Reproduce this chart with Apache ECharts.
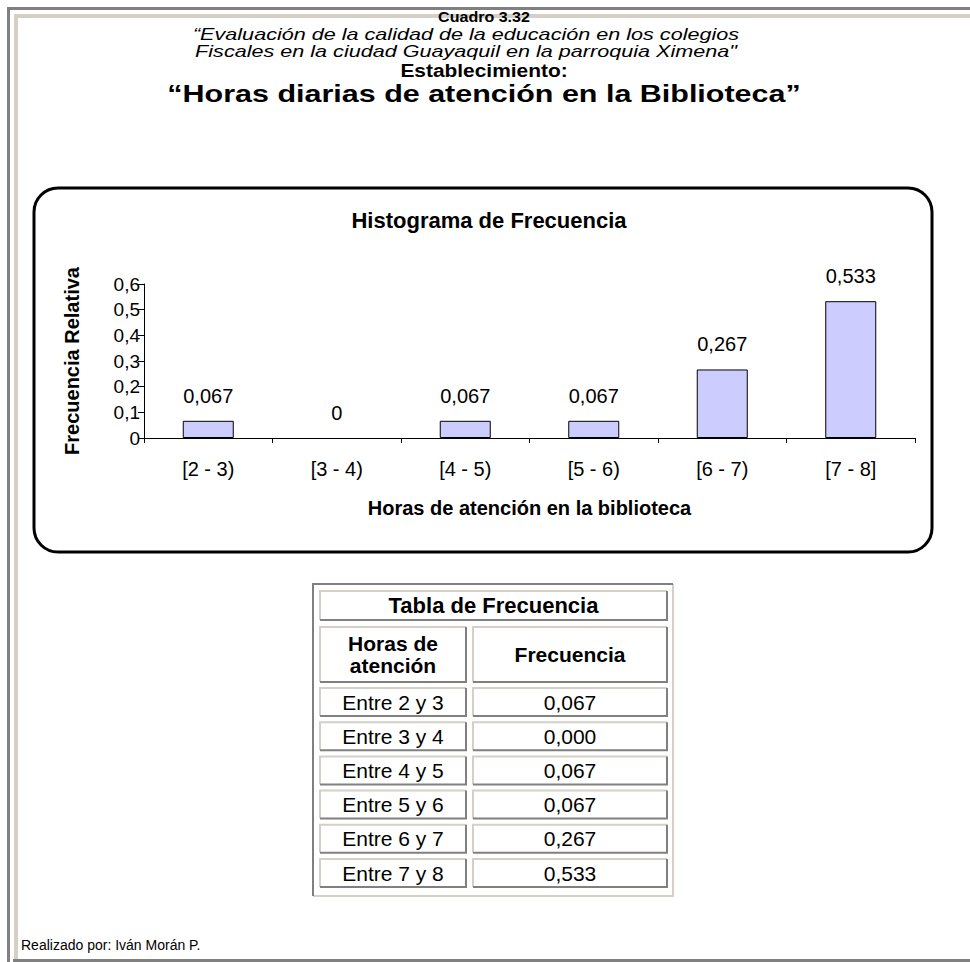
<!DOCTYPE html>
<html>
<head>
<meta charset="utf-8">
<script src="https://cdn.jsdelivr.net/npm/echarts@6/dist/echarts.min.js"></script>
<style>
html,body{margin:0;padding:0;background:#fff;}
#chart{width:970px;height:962px;}
</style>
</head>
<body>
<div id="chart"></div>
<script>
// ---- data ----
const categories = ['[2 - 3)', '[3 - 4)', '[4 - 5)', '[5 - 6)', '[6 - 7)', '[7 - 8]'];
const values = [0.067, 0, 0.067, 0.067, 0.267, 0.533];
const tableLabels = ['Entre 2 y 3', 'Entre 3 y 4', 'Entre 4 y 5', 'Entre 5 y 6', 'Entre 6 y 7', 'Entre 7 y 8'];
const yTicks = [0, 0.1, 0.2, 0.3, 0.4, 0.5, 0.6];
const headerLines = ['Cuadro 3.32',
  '\u201cEvaluaci\u00f3n de la calidad de la educaci\u00f3n en los colegios',
  'Fiscales en la ciudad Guayaquil en la parroquia Ximena"',
  'Establecimiento:',
  '\u201cHoras diarias de atenci\u00f3n en la Biblioteca\u201d'];

const comma = v => String(v).replace('.', ',');
const FONT = 'Liberation Sans, Arial, sans-serif';
const DARK = '#808080', LIGHT = '#d4d0c8';

const chart = echarts.init(document.getElementById('chart'), null, {renderer: 'svg'});

const g = [];
// page frame
g.push({type:'rect', shape:{x:7,y:7,width:970,height:3}, style:{fill:DARK}});
g.push({type:'rect', shape:{x:7,y:7,width:3,height:955}, style:{fill:DARK}});
g.push({type:'rect', shape:{x:14,y:14,width:970,height:4}, style:{fill:LIGHT}});
g.push({type:'rect', shape:{x:14,y:14,width:4,height:945}, style:{fill:LIGHT}});
g.push({type:'rect', shape:{x:13,y:959,width:970,height:3}, style:{fill:DARK}});

// header titles
const hdr = [
  {t: headerLines[0], y: 17, size: 15, weight: 'bold', style: 'normal', sx: 1.07},
  {t: headerLines[1], y: 35, size: 16, weight: 'normal', style: 'italic', x: 466, sx: 1.35},
  {t: headerLines[2], y: 52, size: 16, weight: 'normal', style: 'italic', x: 466, sx: 1.35},
  {t: headerLines[3], y: 70, size: 19, weight: 'bold', style: 'normal', sx: 1.1},
  {t: headerLines[4], y: 94, size: 24, weight: 'bold', style: 'normal', sx: 1.27}
];
hdr.forEach(h => g.push({type:'text', x: h.x || 484, y: h.y, scaleX: h.sx, style:{text:h.t, fill:'#000', font: h.style + ' ' + h.weight + ' ' + h.size + 'px ' + FONT, textAlign:'center', textVerticalAlign:'middle'}}));

// chart box
g.push({type:'rect', shape:{x:34,y:188,width:898,height:364,r:24}, style:{fill:'none', stroke:'#000', lineWidth:3}});

// table
const tx = 313, tw = 360;
g.push({type:'rect', shape:{x:tx,y:584,width:tw,height:312}, style:{fill:'#fff'}});
g.push({type:'polyline', shape:{points:[[tx+tw,584],[tx+tw,896],[tx,896]]}, style:{stroke:LIGHT, lineWidth:2, fill:'none'}});
g.push({type:'polyline', shape:{points:[[tx,896],[tx,584],[tx+tw,584]]}, style:{stroke:DARK, lineWidth:2, fill:'none'}});
function cell(x, y, w, h, lines, font){
  g.push({type:'polyline', shape:{points:[[x,y+h],[x,y],[x+w,y]]}, style:{stroke:LIGHT, lineWidth:2, fill:'none'}});
  g.push({type:'polyline', shape:{points:[[x+w,y],[x+w,y+h],[x,y+h]]}, style:{stroke:DARK, lineWidth:2, fill:'none'}});
  g.push({type:'text', x: x + w/2, y: y + h/2, style:{text: lines, fill:'#000', font: font, textAlign:'center', textVerticalAlign:'middle', lineHeight: 22}});
}
cell(320, 591, 347, 29, 'Tabla de Frecuencia', 'bold 22px ' + FONT);
cell(320, 627, 146, 55, 'Horas de\natenci\u00f3n', 'bold 21px ' + FONT);
cell(473, 627, 194, 55, 'Frecuencia', 'bold 21px ' + FONT);
values.forEach((v, i) => {
  const y = 688 + i * 34.2;
  cell(320, y, 146, 28, tableLabels[i], '21px ' + FONT);
  cell(473, y, 194, 28, v.toFixed(3).replace('.', ','), '21px ' + FONT);
});

// footer
g.push({type:'text', x: 21, y: 945, style:{text:'Realizado por: Iv\u00e1n Mor\u00e1n P.', fill:'#000', font:'14px ' + FONT, textAlign:'left', textVerticalAlign:'middle'}});

chart.setOption({
  animation: false,
  backgroundColor: '#fff',
  title: {
    text: 'Histograma de Frecuencia', left: 484, top: 204, textAlign: 'center',
    textStyle: {fontFamily: FONT, fontSize: 22, fontWeight: 'bold', color: '#000'}
  },
  grid: {left: 144, right: 55, top: 284, bottom: 524, containLabel: false},
  xAxis: {
    type: 'category', data: categories,
    name: 'Horas de atenci\u00f3n en la biblioteca', nameLocation: 'middle', nameGap: 60,
    nameTextStyle: {fontFamily: FONT, fontSize: 20, fontWeight: 'bold', color: '#000'},
    axisLine: {lineStyle: {color: '#000', width: 1}},
    axisTick: {show: true, length: 5, alignWithLabel: false, lineStyle: {color: '#000'}},
    axisLabel: {fontFamily: FONT, fontSize: 20, color: '#000', margin: 21}
  },
  yAxis: {
    type: 'value', min: yTicks[0], max: yTicks[yTicks.length - 1], interval: 0.1,
    name: 'Frecuencia Relativa', nameLocation: 'middle', nameGap: 62, nameRotate: 90,
    nameTextStyle: {fontFamily: FONT, fontSize: 20, fontWeight: 'bold', color: '#000'},
    axisLine: {show: true, lineStyle: {color: '#000', width: 1}},
    axisTick: {show: true, length: 6, lineStyle: {color: '#000'}},
    splitLine: {show: false},
    axisLabel: {fontFamily: FONT, fontSize: 19, color: '#000', margin: 4, formatter: v => comma(+v.toFixed(1))}
  },
  series: [{
    type: 'bar', barWidth: 51,
    data: values.map(v => ({value: v, itemStyle: {borderWidth: v === 0 ? 0 : 1}})),
    itemStyle: {color: '#ccccff', borderColor: '#000', borderWidth: 1},
    label: {show: true, position: 'top', distance: 15, fontFamily: FONT, fontSize: 20, color: '#000', formatter: p => comma(p.value)}
  }],
  graphic: g
});
</script>
</body>
</html>
